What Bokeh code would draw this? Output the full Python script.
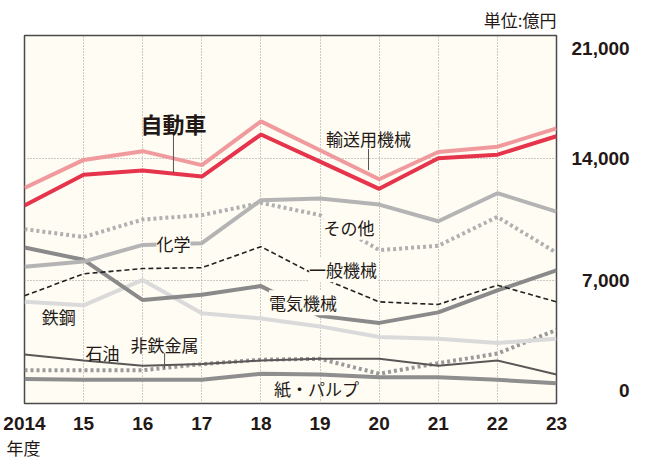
from bokeh.plotting import figure
from bokeh.models import Range1d, FixedTicker, Label, ColumnDataSource, Title
from bokeh.embed import file_html
from bokeh.resources import INLINE

# ---------------- data ----------------
years = [2014, 2015, 2016, 2017, 2018, 2019, 2020, 2021, 2022, 2023]
year_labels = ["2014", "15", "16", "17", "18", "19", "20", "21", "22", "23"]
y_ticks = [0, 7000, 14000, 21000]
y_tick_labels = ["0", "7,000", "14,000", "21,000"]

transport = [12300, 13900, 14400, 13600, 16100, 14450, 12800, 14350, 14650, 15700]   # 輸送用機械
auto = [11300, 13050, 13300, 12950, 15350, 13800, 12250, 14000, 14200, 15250]        # 自動車
chemical = [7800, 8100, 9050, 9150, 11600, 11700, 11350, 10400, 12000, 10950]       # 化学
other = [9950, 9500, 10500, 10750, 11450, 10750, 8750, 9000, 10650, 8600]            # その他
general_mach = [6150, 7400, 7700, 7750, 8950, 7200, 5800, 5650, 6750, 5800]          # 一般機械
electric = [8900, 8200, 5900, 6200, 6700, 5000, 4600, 5200, 6450, 7600]              # 電気機械
steel = [5800, 5600, 7050, 5150, 4850, 4400, 3800, 3700, 3450, 3700]                 # 鉄鋼
oil = [2800, 2450, 2150, 2250, 2450, 2550, 2550, 2150, 2450, 1650]                   # 石油
nonferrous = [1900, 1900, 1900, 2250, 2500, 2550, 1700, 2300, 2850, 4200]            # 非鉄金属
paper = [1400, 1350, 1350, 1350, 1700, 1650, 1500, 1500, 1350, 1150]                 # 紙・パルプ

JP = "Noto Sans CJK JP"
NUM = "Liberation Sans"
TXT = "#231815"
BG = "#fefcf3"

p = figure(width=632, height=459, output_backend="svg", toolbar_location=None,
           x_range=Range1d(2014, 2023), y_range=Range1d(0, 21000),
           y_axis_location="right",
           min_border_left=24, min_border_right=67, min_border_top=34, min_border_bottom=51)
p.background_fill_color = BG
p.border_fill_color = "white"
p.outline_line_color = "#4a4a4a"
p.outline_line_width = 1.5

# unit title (top right) and x-axis unit (bottom left)
p.add_layout(Title(text="単位:億円", align="right", text_font=JP, text_font_size="17px",
                   text_font_style="normal", text_color=TXT, standoff=8), "above")
p.add_layout(Title(text="年度", align="left", offset=-18, text_font=JP, text_font_size="17px",
                   text_font_style="normal", text_color=TXT, standoff=0), "below")

# axes
FS = "\u2007"
PS = "\u2008"
def pad(lbl):
    n_digits = sum(c.isdigit() for c in lbl)
    n_commas = lbl.count(",")
    return FS * (5 - n_digits) + PS * (1 - n_commas) + lbl

overrides = {}
for t, lbl in zip(y_ticks, y_tick_labels):
    s = pad(lbl)
    if t == y_ticks[-1]:
        s = "\n" + s
    elif t == y_ticks[0]:
        s = s + "\n"
    overrides[t] = s

yax = p.yaxis[0]
yax.ticker = FixedTicker(ticks=y_ticks)
yax.major_label_overrides = overrides
yax.major_label_text_font = NUM
yax.major_label_text_font_style = "bold"
yax.major_label_text_font_size = "19px"
yax.major_label_text_color = TXT
yax.major_label_standoff = 9
yax.axis_line_color = None
yax.major_tick_line_color = None
yax.minor_tick_line_color = None

xax = p.xaxis[0]
xax.ticker = FixedTicker(ticks=years)
xax.major_label_overrides = {y: l for y, l in zip(years, year_labels)}
xax.major_label_text_font = NUM
xax.major_label_text_font_style = "bold"
xax.major_label_text_font_size = "19px"
xax.major_label_text_color = TXT
xax.major_label_standoff = 7
xax.axis_line_color = None
xax.major_tick_line_color = None
xax.minor_tick_line_color = None

p.xgrid.ticker = FixedTicker(ticks=years[1:-1])
p.ygrid.ticker = FixedTicker(ticks=y_ticks[1:-1])
for g in (p.xgrid[0], p.ygrid[0]):
    g.grid_line_color = "#9a9a9a"
    g.grid_line_dash = "1 2"
    g.grid_line_width = 1

src = ColumnDataSource(dict(year=years, transport=transport, auto=auto, chemical=chemical,
                            other=other, general_mach=general_mach, electric=electric,
                            steel=steel, oil=oil, nonferrous=nonferrous, paper=paper))

# lines (bottom to top drawing order)
p.line("year", "paper", source=src, line_color="#8e8e8e", line_width=4)
p.line("year", "nonferrous", source=src, line_color="#9a9a9a", line_width=4, line_dash="3 3")
p.line("year", "oil", source=src, line_color="#5a5757", line_width=2)
p.line("year", "steel", source=src, line_color="#dadada", line_width=4)
p.line("year", "electric", source=src, line_color="#8a8a8a", line_width=4)
p.line("year", "general_mach", source=src, line_color="#222222", line_width=1.6, line_dash="5 3")
p.line("year", "other", source=src, line_color="#b0b0b0", line_width=4, line_dash="3 3")
p.line("year", "chemical", source=src, line_color="#b4b4b4", line_width=4)
p.line("year", "transport", source=src, line_color="#f09a9d", line_width=4)
p.line("year", "auto", source=src, line_color="#e5344b", line_width=4)

# leader lines for labels
leaders = ColumnDataSource(dict(x0=[2016.52, 2019.82, 2016.37], y0=[15360, 14530, 2870],
                                x1=[2016.52, 2019.82, 2016.37], y1=[13150, 13320, 1990]))
p.segment("x0", "y0", "x1", "y1", source=leaders, line_color="#555555", line_width=1)

# series labels: (name, x, y, size, bold, background)
label_specs = [
    ("自動車", 2016.52, 16030, "22px", True, False),
    ("輸送用機械", 2019.82, 15140, "17px", False, False),
    ("化学", 2016.52, 9120, "17px", False, True),
    ("その他", 2019.49, 10060, "17px", False, True),
    ("一般機械", 2019.39, 7630, "17px", False, True),
    ("電気機械", 2018.71, 5750, "17px", False, True),
    ("鉄鋼", 2014.58, 4970, "17px", False, False),
    ("石油", 2015.32, 2930, "17px", False, False),
    ("非鉄金属", 2016.37, 3370, "17px", False, False),
    ("紙・パルプ", 2018.94, 880, "17px", False, False),
]
for text, x, y, size, bold, bg in label_specs:
    lab = Label(x=x, y=y, text=text, text_font=JP, text_font_size=size,
                text_font_style="bold" if bold else "normal",
                text_color=TXT, text_align="center", text_baseline="middle")
    if bg:
        lab.background_fill_color = BG
    p.add_layout(lab)

open("out.html", "w").write(file_html(p, INLINE))
